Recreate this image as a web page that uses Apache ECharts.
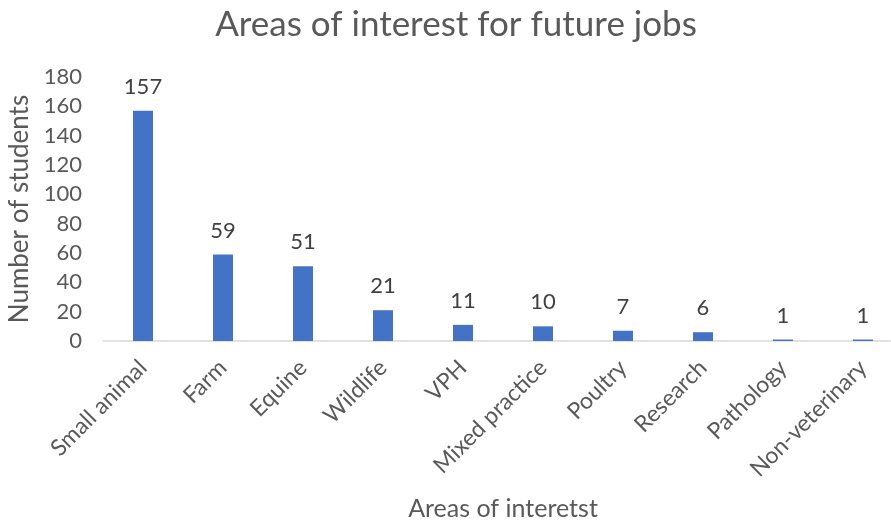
<!DOCTYPE html>
<html><head><meta charset="utf-8">
<script src="https://cdn.jsdelivr.net/npm/echarts@6/dist/echarts.min.js"></script>
<style>html,body{margin:0;padding:0;background:#fff}#c{width:891px;height:524px}</style>
</head><body><div id="c"></div>
<script>
const categories = ["Small animal","Farm","Equine","Wildlife","VPH","Mixed practice","Poultry","Research","Pathology","Non-veterinary"];
const students = [157,59,51,21,11,10,7,6,1,1];
const yTicks = {min:0, max:180, interval:20};
const FONT = "Lato";
const chart = echarts.init(document.getElementById('c'));
chart.setOption({
  animation:false,
  textStyle:{fontFamily:FONT},
  title:{text:"Areas of interest for future jobs",left:451,top:2,textAlign:'center',
    textStyle:{fontFamily:FONT,fontSize:35,fontWeight:'normal',color:'#595959'}},
  grid:{left:103,top:77,width:800,height:264,containLabel:false,outerBoundsMode:'none'},
  xAxis:{type:'category',data:categories,
    name:"Areas of interetst",nameLocation:'middle',nameGap:155,
    nameTextStyle:{fontFamily:FONT,fontSize:25,color:'#595959'},
    axisLine:{lineStyle:{color:'#d9d9d9',width:1.5}},axisTick:{show:false},
    axisLabel:{rotate:45,fontSize:23,color:'#595959',margin:23,interval:0,fontFamily:FONT}},
  yAxis:{type:'value',min:yTicks.min,max:yTicks.max,interval:yTicks.interval,
    name:"Number of students",nameLocation:'middle',nameGap:64,nameRotate:90,
    nameTextStyle:{fontFamily:FONT,fontSize:26,color:'#595959'},
    axisLine:{show:false},axisTick:{show:false},splitLine:{show:false},
    axisLabel:{fontSize:22,color:'#595959',margin:21,fontFamily:FONT}},
  series:[{type:'bar',data:students,barWidth:20,
    itemStyle:{color:'#4472C4'},
    label:{show:true,position:'top',distance:13,fontSize:22,color:'#404040',fontFamily:FONT}}]
});
</script></body></html>
